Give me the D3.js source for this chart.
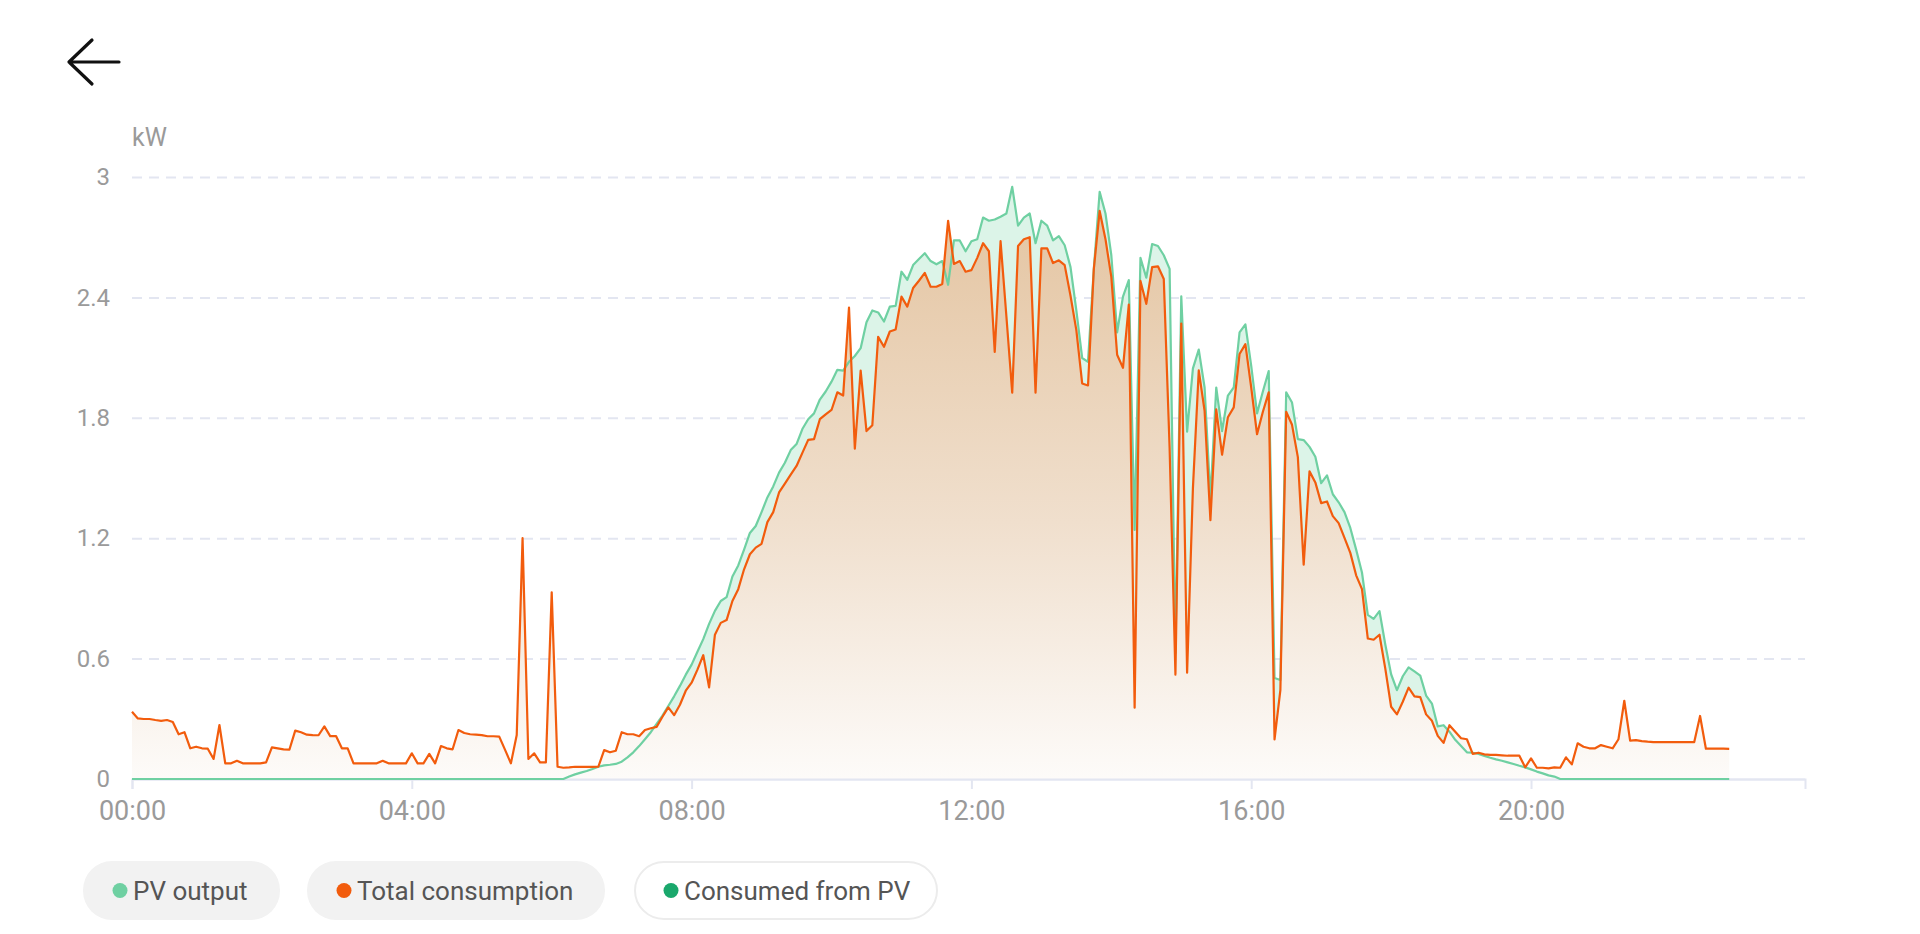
<!DOCTYPE html>
<html>
<head>
<meta charset="utf-8">
<script src="https://cdn.jsdelivr.net/npm/d3@7"></script>
<style>
  html, body { margin: 0; padding: 0; background: #fff; }
  body { width: 1920px; height: 934px; overflow: hidden; font-family: Roboto, "Noto Sans", sans-serif; }
</style>
</head>
<body>
<div id="my_dataviz"></div>
<script>
// tick labels on the time axis
const xTickLabels = ["00:00", "04:00", "08:00", "12:00", "16:00", "20:00"];
const yTicks = [0, 0.6, 1.2, 1.8, 2.4, 3];

// PV output, kW, one value every 5 minutes from 00:00
const pvOutput = [
  0, 0, 0, 0, 0, 0, 0, 0, 0, 0, 0, 0, 0, 0, 0, 0, 0, 0, 0, 0,
  0, 0, 0, 0, 0, 0, 0, 0, 0, 0, 0, 0, 0, 0, 0, 0, 0, 0, 0, 0,
  0, 0, 0, 0, 0, 0, 0, 0, 0, 0, 0, 0, 0, 0, 0, 0, 0, 0, 0, 0,
  0, 0, 0, 0, 0, 0, 0, 0, 0, 0, 0, 0, 0, 0, 0, 0.012, 0.023, 0.032, 0.04, 0.05,
  0.061, 0.068, 0.071, 0.075, 0.086, 0.108, 0.133, 0.164, 0.198, 0.233,
  0.275, 0.316, 0.364, 0.412, 0.464, 0.52, 0.57, 0.634, 0.697, 0.773,
  0.838, 0.887, 0.906, 1.009, 1.064, 1.143, 1.226, 1.261, 1.33, 1.403,
  1.458, 1.527, 1.576, 1.639, 1.669, 1.744, 1.793, 1.822, 1.891, 1.931,
  1.98, 2.039, 2.035, 2.079, 2.108, 2.147, 2.276, 2.335, 2.325, 2.28,
  2.354, 2.358, 2.528, 2.488, 2.561, 2.591, 2.62, 2.581, 2.565, 2.581,
  2.463, 2.684, 2.684, 2.63, 2.68, 2.69, 2.798, 2.782, 2.788, 2.802,
  2.818, 2.951, 2.758, 2.798, 2.818, 2.67, 2.782, 2.758, 2.684, 2.705,
  2.66, 2.551, 2.335, 2.098, 2.079, 2.542, 2.926, 2.818, 2.61, 2.226,
  2.404, 2.486, 1.241, 2.597, 2.498, 2.666, 2.656, 2.61, 2.542, 0.628,
  2.405, 1.731, 2.046, 2.14, 1.951, 1.4, 1.951, 1.734, 1.911, 1.951,
  2.226, 2.266, 2.059, 1.822, 1.931, 2.033, 0.503, 0.493, 1.927, 1.876,
  1.694, 1.689, 1.655, 1.606, 1.474, 1.513, 1.419, 1.379, 1.33, 1.251,
  1.143, 1.029, 0.818, 0.798, 0.837, 0.67, 0.522, 0.443, 0.512, 0.556,
  0.536, 0.515, 0.416, 0.376, 0.262, 0.268, 0.236, 0.195, 0.164, 0.133,
  0.131, 0.125, 0.115, 0.106, 0.098, 0.091, 0.083, 0.075, 0.066, 0.058,
  0.048, 0.037, 0.028, 0.018, 0.012, 0, 0, 0, 0, 0,
  0, 0, 0, 0, 0, 0, 0, 0, 0, 0,
  0, 0, 0, 0, 0, 0, 0, 0, 0, 0,
  0, 0, 0, 0, 0
];

// Total consumption, kW, same 5 minute slots
const totalConsumption = [
  0.335, 0.302, 0.299, 0.299, 0.294, 0.29, 0.294, 0.284, 0.223, 0.233,
  0.153, 0.161, 0.153, 0.151, 0.1, 0.269, 0.078, 0.078, 0.091, 0.078,
  0.078, 0.078, 0.078, 0.083, 0.158, 0.153, 0.148, 0.146, 0.241, 0.233,
  0.221, 0.219, 0.218, 0.262, 0.214, 0.214, 0.153, 0.153, 0.078, 0.078,
  0.078, 0.078, 0.078, 0.091, 0.078, 0.078, 0.078, 0.078, 0.128, 0.078,
  0.078, 0.125, 0.078, 0.164, 0.153, 0.148, 0.244, 0.229, 0.223, 0.221,
  0.219, 0.213, 0.213, 0.211, 0.145, 0.078, 0.219, 1.2, 0.1, 0.128,
  0.083, 0.083, 0.93, 0.061, 0.056, 0.058, 0.061, 0.06, 0.06, 0.06,
  0.061, 0.144, 0.133, 0.141, 0.233, 0.223, 0.223, 0.213, 0.244, 0.253,
  0.26, 0.31, 0.357, 0.318, 0.37, 0.44, 0.48, 0.545, 0.617, 0.457,
  0.719, 0.778, 0.792, 0.887, 0.946, 1.045, 1.12, 1.153, 1.172, 1.28,
  1.33, 1.428, 1.472, 1.517, 1.56, 1.625, 1.69, 1.694, 1.793, 1.817,
  1.839, 1.927, 1.911, 2.349, 1.646, 2.035, 1.734, 1.763, 2.203, 2.154,
  2.23, 2.24, 2.404, 2.354, 2.447, 2.483, 2.522, 2.453, 2.453, 2.467,
  2.782, 2.567, 2.581, 2.528, 2.536, 2.597, 2.67, 2.63, 2.128, 2.68,
  2.306, 1.925, 2.656, 2.69, 2.7, 1.925, 2.644, 2.644, 2.571, 2.585,
  2.561, 2.408, 2.237, 1.971, 1.961, 2.542, 2.831, 2.69, 2.502, 2.114,
  2.049, 2.364, 0.355, 2.482, 2.368, 2.551, 2.555, 2.492, 1.65, 0.52,
  2.27, 0.53, 1.45, 2.036, 1.835, 1.29, 1.842, 1.616, 1.803, 1.852,
  2.118, 2.167, 1.951, 1.718, 1.83, 1.927, 0.197, 0.443, 1.83, 1.765,
  1.604, 1.068, 1.533, 1.478, 1.375, 1.383, 1.31, 1.275, 1.202, 1.127,
  1.015, 0.946, 0.7, 0.694, 0.719, 0.55, 0.36, 0.322, 0.385, 0.455,
  0.412, 0.408, 0.322, 0.29, 0.215, 0.18, 0.268, 0.235, 0.203, 0.198,
  0.125, 0.131, 0.123, 0.12, 0.12, 0.118, 0.116, 0.116, 0.116, 0.058,
  0.103, 0.056, 0.056, 0.053, 0.058, 0.056, 0.108, 0.073, 0.178, 0.161,
  0.153, 0.153, 0.169, 0.161, 0.153, 0.198, 0.39, 0.191, 0.194, 0.189,
  0.186, 0.184, 0.184, 0.184, 0.184, 0.184, 0.184, 0.184, 0.184, 0.314,
  0.151, 0.151, 0.151, 0.151, 0.15
];

const seriesNames = ["PV output", "Total consumption", "Consumed from PV"];
const seriesColors = ["#6fd0a2", "#f25c0d", "#1aa86c"];

// 288 five-minute slots for the category axis
const pad = (n) => String(n).padStart(2, "0");
const slots = d3.range(288).map((i) => pad(Math.floor(i / 12)) + ":" + pad((i % 12) * 5));

const width = 1920, height = 934;
const plot = { left: 132, right: 1805, top: 177, bottom: 779 };

const svg = d3.select("#my_dataviz")
  .append("svg")
  .attr("width", width)
  .attr("height", height)
  .style("display", "block");

// back arrow
svg.append("path")
  .attr("d", "M69,62 L119,62 M92,40 L69,62 L92,84")
  .attr("fill", "none")
  .attr("stroke", "#111")
  .attr("stroke-width", 3.2)
  .attr("stroke-linecap", "round")
  .attr("stroke-linejoin", "round");

const x = d3.scalePoint().domain(slots).range([plot.left, plot.right]);
const y = d3.scaleLinear().domain([0, 3]).range([plot.bottom, plot.top]);

// unit label
svg.append("text")
  .attr("x", plot.left)
  .attr("y", 146)
  .attr("fill", "#9a9a9a")
  .style("font-size", "25px")
  .text("kW");

// Y axis with dashed grid lines
const yAxis = svg.append("g")
  .attr("transform", `translate(${plot.left},0)`)
  .call(d3.axisLeft(y).tickValues(yTicks).tickFormat((d) => d3.format("~g")(d))
    .tickSize(-(plot.right - plot.left)).tickPadding(22));
yAxis.select(".domain").remove();
yAxis.selectAll(".tick line")
  .attr("stroke", "#e3e6f1")
  .attr("stroke-width", 2)
  .attr("stroke-dasharray", (d) => (d === 0 ? null : "10,7"));
yAxis.selectAll(".tick text")
  .attr("fill", "#9a9a9a")
  .style("font-size", "24px")
  .style("font-family", "Roboto, sans-serif");

// gradient for consumption area
const defs = svg.append("defs");
const grad = defs.append("linearGradient")
  .attr("id", "consGrad")
  .attr("gradientUnits", "userSpaceOnUse")
  .attr("x1", 0).attr("x2", 0)
  .attr("y1", y(2.85)).attr("y2", y(0));
grad.append("stop").attr("offset", "0%").attr("stop-color", "#e4c5a2");
grad.append("stop").attr("offset", "55%").attr("stop-color", "#f0dfcd");
grad.append("stop").attr("offset", "100%").attr("stop-color", "#fdfbf9");

const pvData = pvOutput.map((v, i) => ({ t: slots[i], v }));
const consData = totalConsumption.map((v, i) => ({ t: slots[i], v }));

const area = d3.area().x((d) => x(d.t)).y0(y(0)).y1((d) => y(d.v));
const line = d3.line().x((d) => x(d.t)).y((d) => y(d.v));

// PV area + consumption area
svg.append("path").datum(pvData)
  .attr("d", area)
  .attr("fill", "#dcf4e8");
svg.append("path").datum(consData)
  .attr("d", area)
  .attr("fill", "url(#consGrad)");

// X axis
const xAxis = svg.append("g")
  .attr("transform", `translate(0,${plot.bottom})`)
  .call(d3.axisBottom(x).tickValues(xTickLabels).tickSize(10).tickPadding(12));
xAxis.select(".domain")
  .attr("stroke", "#e3e6f1")
  .attr("stroke-width", 2);
xAxis.selectAll(".tick line")
  .attr("stroke", "#e3e6f1")
  .attr("stroke-width", 2);
xAxis.selectAll(".tick text")
  .attr("fill", "#9a9a9a")
  .style("font-size", "27px")
  .style("font-family", "Roboto, sans-serif");

// lines
svg.append("path").datum(pvData)
  .attr("d", line)
  .attr("fill", "none")
  .attr("stroke", seriesColors[0])
  .attr("stroke-width", 2.2)
  .attr("stroke-linejoin", "round");
svg.append("path").datum(consData)
  .attr("d", line)
  .attr("fill", "none")
  .attr("stroke", seriesColors[1])
  .attr("stroke-width", 2.2)
  .attr("stroke-linejoin", "round");

// legend pills
const pills = [
  { x: 83, w: 197, fill: "#f2f2f2", stroke: "none" },
  { x: 307, w: 298, fill: "#f2f2f2", stroke: "none" },
  { x: 634, w: 304, fill: "#ffffff", stroke: "#ececec" }
];
const legend = svg.append("g").selectAll("g")
  .data(seriesNames)
  .join("g")
  .attr("transform", (d, i) => `translate(${pills[i].x},861)`);
legend.append("rect")
  .attr("x", (d, i) => (pills[i].stroke === "none" ? 0 : 1))
  .attr("y", (d, i) => (pills[i].stroke === "none" ? 0 : 1))
  .attr("width", (d, i) => pills[i].w - (pills[i].stroke === "none" ? 0 : 2))
  .attr("height", (d, i) => 59 - (pills[i].stroke === "none" ? 0 : 2))
  .attr("rx", 29)
  .attr("fill", (d, i) => pills[i].fill)
  .attr("stroke", (d, i) => pills[i].stroke)
  .attr("stroke-width", 2);
legend.append("circle")
  .attr("cx", 37)
  .attr("cy", 29.5)
  .attr("r", 7.5)
  .attr("fill", (d, i) => seriesColors[i]);
legend.append("text")
  .attr("x", 50)
  .attr("y", 29.5)
  .attr("dy", "0.35em")
  .attr("fill", "#555")
  .style("font-size", "26px")
  .text((d) => d);
</script>
</body>
</html>
